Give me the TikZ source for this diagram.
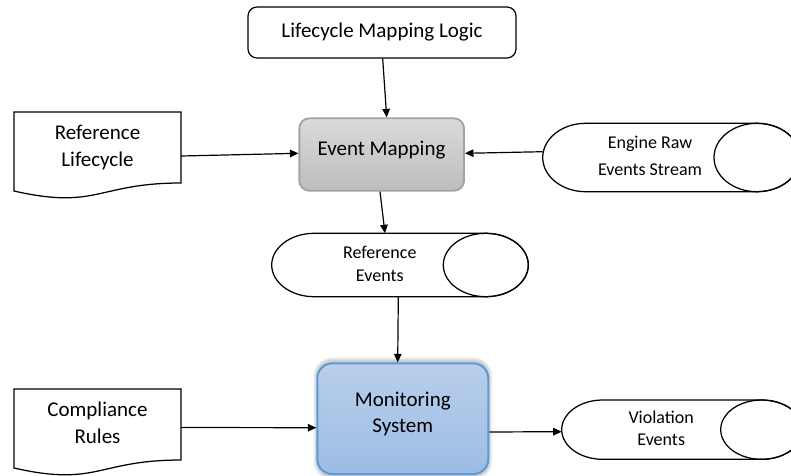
\documentclass[tikz,border=0pt]{standalone}
\usepackage{fontspec}
\setmainfont{Carlito}
\usetikzlibrary{arrows.meta}
\definecolor{grayTop}{HTML}{DADADA}
\definecolor{grayBot}{HTML}{BDBDBD}
\definecolor{grayEdge}{HTML}{A3A3A3}
\definecolor{blueTop}{HTML}{B9CFEA}
\definecolor{blueBot}{HTML}{9CBCE5}
\definecolor{blueEdge}{HTML}{5B9BD5}
\begin{document}
\begin{tikzpicture}[x=1pt,y=-1pt,
  outline/.style={draw=black, line width=1.25pt},
  geom/.style={inner sep=0pt, outer sep=0pt},
  bigtext/.style={align=center, inner sep=0pt, font=\fontsize{21}{27}\selectfont},
  smalltext/.style={align=center, inner sep=0pt, font=\fontsize{18}{23}\selectfont},
  arr/.style={line width=1.2pt, -{Triangle[length=8.5pt,width=7.5pt]}},
  procbox/.style={rounded corners=10pt, line width=1.8pt, draw=grayEdge,
    top color=grayTop, bottom color=grayBot},
  sysbox/.style={rounded corners=15pt, line width=2pt, draw=blueEdge,
    top color=blueTop, bottom color=blueBot}
]
% canvas
\fill[white] (0,0) rectangle (791,475);
\useasboundingbox (0,0) rectangle (791,475);
\clip (0,0) rectangle (791,475);

% ---------- top logic box ----------
\node[outline, rounded corners=9pt, minimum width=268pt, minimum height=51pt,
  font=\fontsize{21}{27}\selectfont] (lml) at (382,32.5) {Lifecycle Mapping Logic};

% ---------- event mapping process ----------
\node[procbox, minimum width=164.7pt, minimum height=72.4pt] (em) at (381.7,154.5) {};
\node[bigtext] (emt) at (381.5,150) {Event Mapping};

% ---------- document: reference lifecycle ----------
\draw[outline, fill=white] (14,112) -- (181,112) -- (181,183)
  .. controls (97.5,183) and (97.5,210) .. (14,191) -- cycle;
\node[geom, minimum width=167pt, minimum height=71pt] (rl) at (97.5,147.5) {};
\node[bigtext] (rlt) at (97.5,147) {Reference\\Lifecycle};

% ---------- document: compliance rules ----------
\draw[outline, fill=white] (14,389) -- (181,389) -- (181,460)
  .. controls (97.5,460) and (97.5,487) .. (14,468) -- cycle;
\node[geom, minimum width=167pt, minimum height=71pt] (cr) at (97.5,424.5) {};
\node[bigtext] (crt) at (97.5,422.7) {Compliance\\Rules};

% ---------- stored data: engine raw events stream ----------
\draw[outline, fill=white] (757,123.3) -- (585.7,123.3)
  arc[start angle=-90, end angle=-270, x radius=43, y radius=34.2]
  -- (757,191.7) arc[start angle=90, end angle=-90, x radius=43, y radius=34.2] -- cycle;
\draw[outline] (757,157.5) ellipse[x radius=43, y radius=34.2];
\node[geom, minimum width=257.3pt, minimum height=68.4pt] (eng) at (671.35,157.5) {};
\node[smalltext, font=\fontsize{18}{27}\selectfont] (engt) at (650,156.2) {Engine Raw\\Events Stream};

% ---------- stored data: reference events ----------
\draw[outline, fill=white] (485.8,233.3) -- (314.2,233.3)
  arc[start angle=-90, end angle=-270, x radius=42.5, y radius=31.7]
  -- (485.8,296.7) arc[start angle=90, end angle=-90, x radius=42.5, y radius=31.7] -- cycle;
\draw[outline] (485.8,265) ellipse[x radius=42.5, y radius=31.7];
\node[geom, minimum width=256.6pt, minimum height=63.4pt] (re) at (400,265) {};
\node[smalltext, font=\fontsize{18}{23.3}\selectfont] (ret) at (379.8,263.8) {Reference\\Events};

% ---------- stored data: violation events ----------
\draw[outline, fill=white] (761.7,400) -- (602.7,400)
  arc[start angle=-90, end angle=-270, x radius=41, y radius=29.65]
  -- (761.7,459.3) arc[start angle=90, end angle=-90, x radius=41, y radius=29.65] -- cycle;
\draw[outline] (761.7,429.65) ellipse[x radius=41, y radius=29.65];
\node[geom, minimum width=241pt, minimum height=59.3pt] (ve) at (682.2,429.65) {};
\node[smalltext, font=\fontsize{18}{22}\selectfont] (vet) at (661.2,428) {Violation\\Events};

% ---------- monitoring system (with soft shadow) ----------
\foreach \i in {1,...,4}{
  \fill[black, opacity=0.05, rounded corners=15pt+\i pt]
    (317.3-\i,361.3-\i) rectangle (488.3+\i,476+\i);
}
\node[sysbox, minimum width=171pt, minimum height=110.7pt] (ms) at (402.8,418.7) {};
\node[bigtext, font=\fontsize{21}{26}\selectfont] (mst) at (402.8,414) {Monitoring\\System};

% ---------- connectors ----------
\draw[arr] ([xshift=0.7pt]lml.south) -- ([xshift=5pt]em.north);
\draw[arr] ([yshift=-8.5pt]rl.east) -- ([yshift=1.2pt]em.west);
\draw[arr] ([yshift=5.8pt]eng.west) -- ([yshift=1.2pt]em.east);
\draw[arr] ([xshift=-1.7pt]em.south) -- ([xshift=-15pt]re.north);
\draw[arr] ([xshift=-1.7pt]re.south) -- ([xshift=-5.1pt]ms.north);
\draw[arr] ([yshift=-3pt]cr.east) -- ([yshift=-9pt]ms.west);
\draw[arr] ([yshift=-13.3pt]ms.east) -- ([yshift=-2pt]ve.west);
\end{tikzpicture}
\end{document}
